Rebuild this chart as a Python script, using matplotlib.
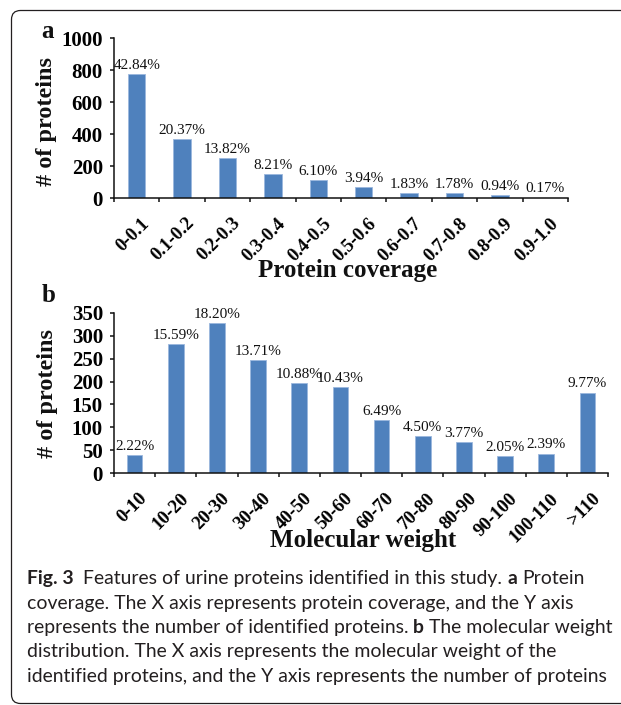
import matplotlib
matplotlib.use("Agg")
import numpy as np
import matplotlib.pyplot as plt
from matplotlib.patches import FancyBboxPatch
from matplotlib.transforms import ScaledTranslation, IdentityTransform

# panel a - protein coverage
cov_labels = ["0-0.1", "0.1-0.2", "0.2-0.3", "0.3-0.4", "0.4-0.5",
              "0.5-0.6", "0.6-0.7", "0.7-0.8", "0.8-0.9", "0.9-1.0"]
cov_counts = [772, 367, 249, 148, 110, 71, 33, 32, 17, 3]
cov_pct = ["42.84%", "20.37%", "13.82%", "8.21%", "6.10%",
           "3.94%", "1.83%", "1.78%", "0.94%", "0.17%"]

# panel b - molecular weight
mw_labels = ["0-10", "10-20", "20-30", "30-40", "40-50", "50-60",
             "60-70", "70-80", "80-90", "90-100", "100-110", ">110"]
mw_counts = [40, 281, 328, 247, 196, 188, 117, 81, 68, 37, 43, 176]
mw_pct = ["2.22%", "15.59%", "18.20%", "13.71%", "10.88%", "10.43%",
          "6.49%", "4.50%", "3.77%", "2.05%", "2.39%", "9.77%"]

caption = [
    [("Fig. 3", "bold"), ("Features of urine proteins identified in this study.", "normal"),
     ("a", "bold"), ("Protein", "normal")],
    [("coverage. The X axis represents protein coverage, and the Y axis", "normal")],
    [("represents the number of identified proteins.", "normal"), ("b", "bold"),
     ("The molecular weight", "normal")],
    [("distribution. The X axis represents the molecular weight of the", "normal")],
    [("identified proteins, and the Y axis represents the number of proteins", "normal")],
]

W, H = 621, 705
SERIF = "Liberation Serif"
BAR = "#4f81bd"
INK = "#231f20"

fig = plt.figure(figsize=(W / 100, H / 100), dpi=100)


def fx(x):
    return x / W


def fy(y):
    return 1 - y / H


def bar_panel(left, top, right, bottom, labels, counts, pcts, ymax, ystep):
    ax = fig.add_axes([fx(left), fy(bottom), (right - left) / W, (bottom - top) / H])
    x = np.arange(len(labels))
    ax.bar(x, counts, width=0.38, color=BAR, edgecolor="#9bb7dd", linewidth=0.6, zorder=2)
    for xi, c, p in zip(x, counts, pcts):
        ax.annotate(p, (xi, c), xytext=(0, 1.5), textcoords="offset points",
                    ha="center", va="bottom", fontsize=11, family=SERIF, color="#111111")
    ax.set_xlim(-0.5, len(labels) - 0.5)
    ax.set_ylim(0, ymax)
    ax.set_yticks(np.arange(0, ymax + 1, ystep))
    ax.set_xticks(x)
    ax.set_xticklabels(labels, rotation=45, ha="right", va="top", rotation_mode="anchor")
    ax.set_xticks(np.arange(-0.5, len(labels)), minor=True)
    ax.tick_params(axis="x", which="major", length=0, pad=12)
    ax.tick_params(axis="x", which="minor", length=3, width=1.1, direction="out", color="#111111")
    ax.tick_params(axis="y", length=3, width=1.1, pad=5, color="#111111")
    for s in ["top", "right"]:
        ax.spines[s].set_visible(False)
    for s in ["left", "bottom"]:
        ax.spines[s].set_linewidth(1.1)
        ax.spines[s].set_color("#111111")
    shift = ScaledTranslation(4 / 100, 0, fig.dpi_scale_trans)
    for t in ax.get_xticklabels():
        t.set_family(SERIF)
        t.set_fontweight("bold")
        t.set_fontsize(13.5)
        t.set_transform(t.get_transform() + shift)
    for t in ax.get_yticklabels():
        t.set_family(SERIF)
        t.set_fontweight("bold")
        t.set_fontsize(15)
    return ax


ax_a = bar_panel(114, 38, 568, 198, cov_labels, cov_counts, cov_pct, 1000, 200)
ax_b = bar_panel(114, 312.7, 608, 473.3, mw_labels, mw_counts, mw_pct, 350, 50)

# panel letters and axis titles
lab = dict(family=SERIF, fontweight="bold", color="#111111")
fig.text(fx(41.7), fy(38), "a", fontsize=18, va="baseline", **lab)
fig.text(fx(41.7), fy(302), "b", fontsize=18, va="baseline", **lab)
fig.text(fx(46.5), fy(121), "# of proteins", rotation=90, ha="center", va="center", fontsize=17.5, **lab)
fig.text(fx(48), fy(393), "# of proteins", rotation=90, ha="center", va="center", fontsize=17.5, **lab)
fig.text(fx(348), fy(277), "Protein coverage", ha="center", va="baseline", fontsize=18, **lab)
fig.text(fx(363), fy(547), "Molecular weight", ha="center", va="baseline", fontsize=18, **lab)

# rounded frame around figure + caption
frame = FancyBboxPatch((11.5, H - 703.5), 700, 693, boxstyle="round,pad=0,rounding_size=9",
                       transform=IdentityTransform(), fill=False, lw=0.9, ec=INK)
fig.add_artist(frame)

# caption, fitted so the widest line matches the original
renderer = fig.canvas.get_renderer()
CAP = "Lato"


def width(s, size, weight="normal"):
    t = fig.text(0, 0, s, fontsize=size, fontweight=weight, family=CAP)
    w = t.get_window_extent(renderer).width
    t.remove()
    return w


probe = " ".join(p[0] for p in caption[2])
cap_size = 12 * 586 / width(probe, 12)
space = width("x x", cap_size) - width("xx", cap_size)

x0 = 26.7
baselines = [584, 608.5, 633, 657.5, 682]
for line, yb in zip(caption, baselines):
    x = x0
    for i, (s, wt) in enumerate(line):
        t = fig.text(fx(x), fy(yb), s, fontsize=cap_size, fontweight=wt, family=CAP,
                     color=INK, va="baseline", ha="left")
        x += t.get_window_extent(renderer).width + space * (2 if s == "Fig. 3" else 1)

fig.savefig("out.png", dpi=100)
